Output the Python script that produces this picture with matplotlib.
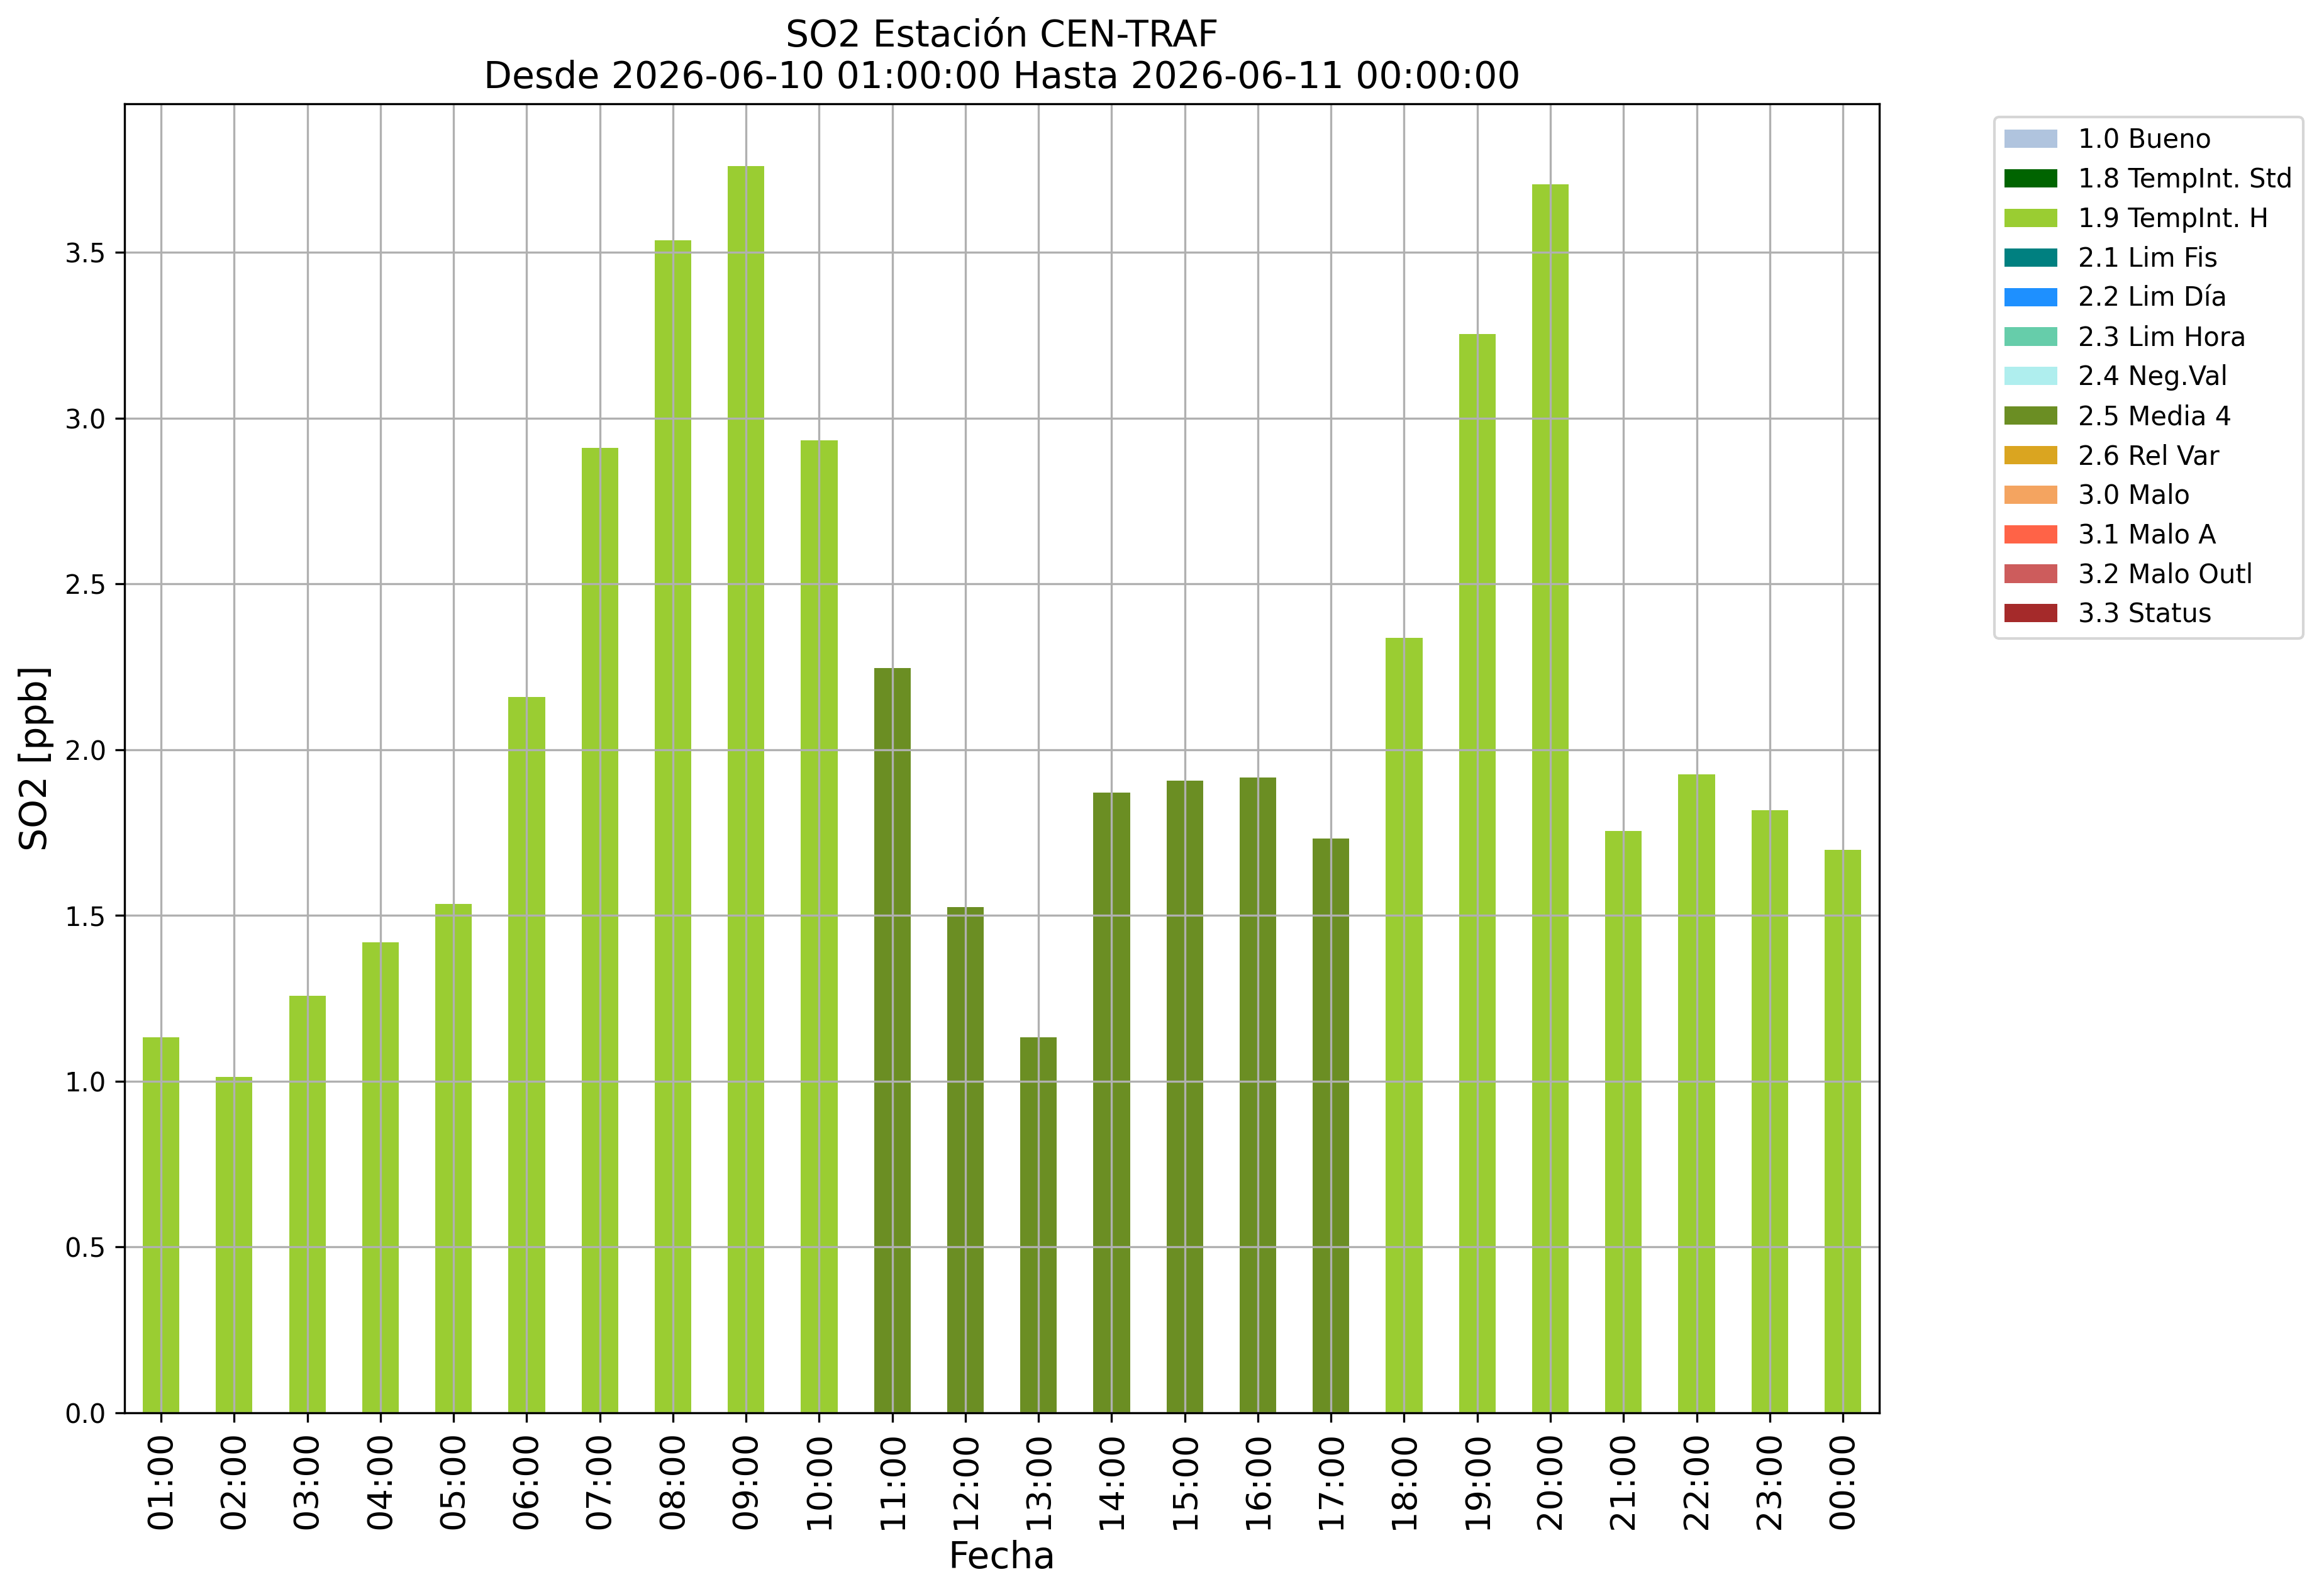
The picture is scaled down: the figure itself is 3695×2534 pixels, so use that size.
import numpy as np
import matplotlib
matplotlib.use("Agg")
import matplotlib.pyplot as plt

# Hourly SO2 values and the quality flag for each hour.

horas = ["01:00", "02:00", "03:00", "04:00", "05:00", "06:00", "07:00", "08:00",
         "09:00", "10:00", "11:00", "12:00", "13:00", "14:00", "15:00", "16:00",
         "17:00", "18:00", "19:00", "20:00", "21:00", "22:00", "23:00", "00:00"]

valores = [1.133, 1.012, 1.258, 1.419, 1.535, 2.158, 2.910, 3.536,
           3.760, 2.932, 2.247, 1.526, 1.133, 1.871, 1.907, 1.916,
           1.732, 2.337, 3.254, 3.706, 1.755, 1.925, 1.817, 1.697]

banderas = ["1.9", "1.9", "1.9", "1.9", "1.9", "1.9", "1.9", "1.9",
            "1.9", "1.9", "2.5", "2.5", "2.5", "2.5", "2.5", "2.5",
            "2.5", "1.9", "1.9", "1.9", "1.9", "1.9", "1.9", "1.9"]

codigos = ["1.0", "1.8", "1.9", "2.1", "2.2", "2.3", "2.4",
           "2.5", "2.6", "3.0", "3.1", "3.2", "3.3"]

etiquetas = ["1.0 Bueno", "1.8 TempInt. Std", "1.9 TempInt. H", "2.1 Lim Fis",
             "2.2 Lim Día", "2.3 Lim Hora", "2.4 Neg.Val", "2.5 Media 4",
             "2.6 Rel Var", "3.0 Malo", "3.1 Malo A", "3.2 Malo Outl", "3.3 Status"]

colores = ["lightsteelblue", "darkgreen", "yellowgreen", "teal", "dodgerblue",
           "mediumaquamarine", "paleturquoise", "olivedrab", "goldenrod",
           "sandybrown", "tomato", "indianred", "brown"]

# Build the figure.

fig = plt.figure(figsize=(3695 / 300, 2534 / 300), dpi=300)
ax = fig.add_axes([0.0536, 0.1137, 0.7551, 0.8212])

x = np.arange(len(horas))
valores = np.array(valores)
banderas = np.array(banderas)
base = np.zeros(len(horas))

# One stacked layer per flag, like a pandas stacked bar plot.

for codigo, etiqueta, color in zip(codigos, etiquetas, colores):
    capa = np.where(banderas == codigo, valores, 0.0)
    ax.bar(x, capa, width=0.5, bottom=base, color=color, label=etiqueta)
    base = base + capa

ax.set_xlim(-0.5, len(horas) - 0.5)
ax.set_ylim(0, valores.max() * 1.05)
ax.set_xticks(x)
ax.set_xticklabels(horas, rotation=90, fontsize=13)
ax.tick_params(axis="y", labelsize=10)

ax.set_title("SO2 Estación CEN-TRAF\nDesde 2026-06-10 01:00:00 Hasta 2026-06-11 00:00:00",
             fontsize=14)
ax.set_xlabel("Fecha", fontsize=14)
ax.set_ylabel("SO2 [ppb]", fontsize=14)

ax.grid(True)
ax.legend(bbox_to_anchor=(1.058, 1), loc="upper left", fontsize=10)

fig.savefig("out.png", dpi=300)
